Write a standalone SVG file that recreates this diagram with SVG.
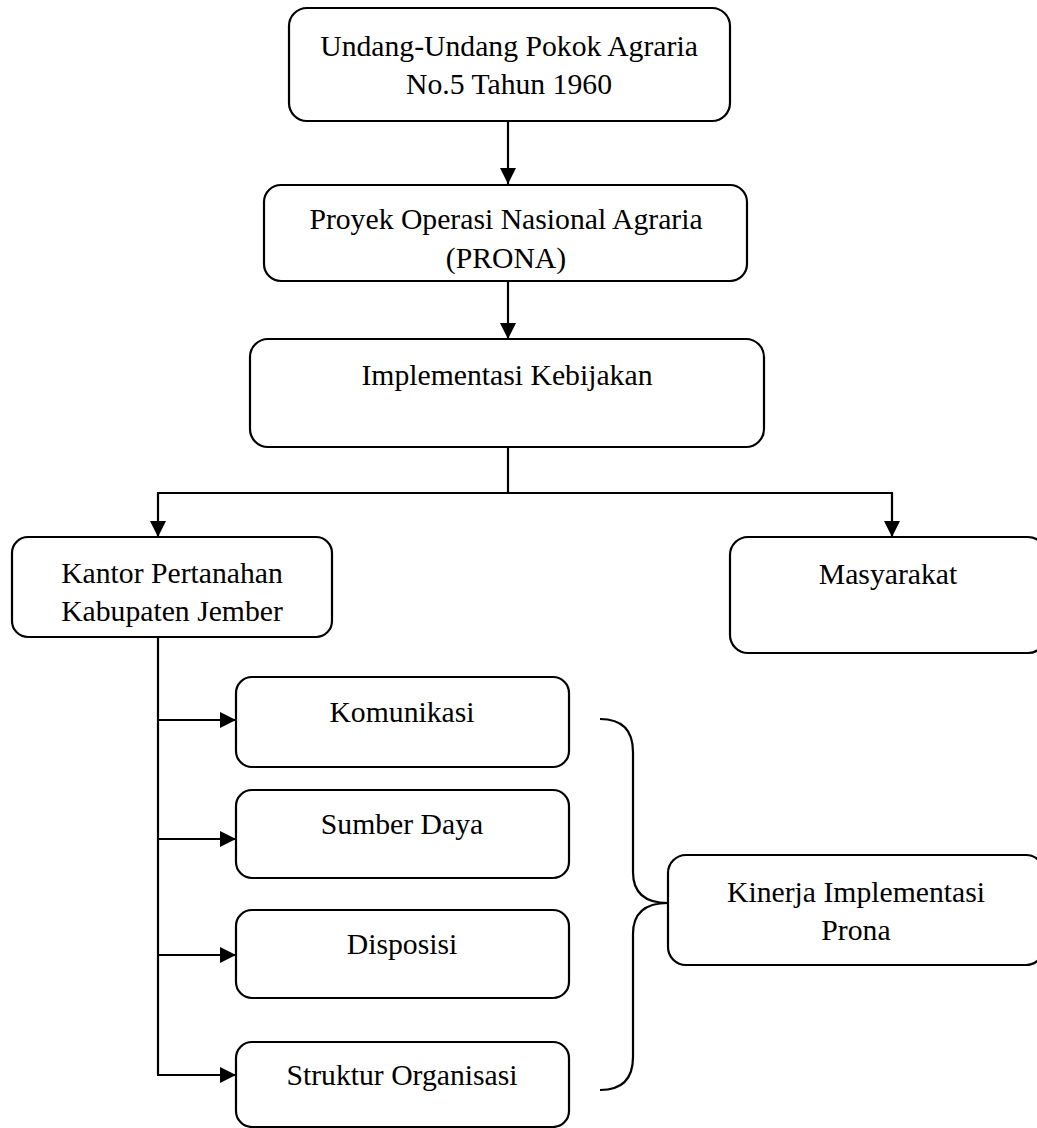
<svg xmlns="http://www.w3.org/2000/svg" width="1037" height="1128" viewBox="0 0 1037 1128">
<style>
.box{fill:#fff;stroke:#000;stroke-width:2.2}
.t{font-family:"Liberation Serif","Times New Roman",serif;font-size:29.7px;fill:#000;text-anchor:middle}
.c{fill:none;stroke:#000;stroke-width:2.2}
</style>
<defs>
<marker id="arr" markerUnits="userSpaceOnUse" markerWidth="16" markerHeight="16" viewBox="0 0 16 16" refX="16" refY="8" orient="auto">
<path d="M0,0 L16,8 L0,16 z" fill="#000"/>
</marker>
</defs>
<rect width="1037" height="1128" fill="#fff"/>
<g id="connectors">
<path class="c" d="M508,121 L508,184" marker-end="url(#arr)"/>
<path class="c" d="M508,281 L508,339" marker-end="url(#arr)"/>
<path class="c" d="M508,447 L508,493"/>
<path class="c" d="M508,493 L158,493 L158,537" marker-end="url(#arr)"/>
<path class="c" d="M508,493 L892,493 L892,537" marker-end="url(#arr)"/>
<path class="c" d="M158,637 L158,1075"/>
<path class="c" d="M158,720 L236,720" marker-end="url(#arr)"/>
<path class="c" d="M158,839 L236,839" marker-end="url(#arr)"/>
<path class="c" d="M158,955 L236,955" marker-end="url(#arr)"/>
<path class="c" d="M157,1075 L236,1075" marker-end="url(#arr)"/>
<path class="c" d="M600,719 Q633,719 633,752 L633,872 Q633,903 668,903 Q633,903 633,934 L633,1057 Q633,1090 600,1090"/>
</g>
<g id="uupa">
<rect class="box" x="289" y="8" width="441" height="113" rx="18"/>
<text class="t" x="509" y="56">Undang-Undang Pokok Agraria</text>
<text class="t" x="509" y="94">No.5 Tahun 1960</text>
</g>
<g id="prona">
<rect class="box" x="264" y="185" width="483" height="96" rx="17"/>
<text class="t" x="506" y="229">Proyek Operasi Nasional Agraria</text>
<text class="t" x="506" y="268">(PRONA)</text>
</g>
<g id="implementasi">
<rect class="box" x="250" y="339" width="514" height="108" rx="18"/>
<text class="t" x="507" y="385">Implementasi Kebijakan</text>
</g>
<g id="kantor">
<rect class="box" x="12" y="537" width="320" height="100" rx="16"/>
<text class="t" x="172" y="583">Kantor Pertanahan</text>
<text class="t" x="172" y="621">Kabupaten Jember</text>
</g>
<g id="masyarakat">
<rect class="box" x="730" y="537" width="316" height="116" rx="18"/>
<text class="t" x="888" y="584">Masyarakat</text>
</g>
<g id="komunikasi">
<rect class="box" x="236" y="677" width="333" height="90" rx="16"/>
<text class="t" x="402" y="722">Komunikasi</text>
</g>
<g id="sumberdaya">
<rect class="box" x="236" y="790" width="333" height="88" rx="16"/>
<text class="t" x="402" y="834">Sumber Daya</text>
</g>
<g id="disposisi">
<rect class="box" x="236" y="910" width="333" height="88" rx="16"/>
<text class="t" x="402" y="954">Disposisi</text>
</g>
<g id="struktur">
<rect class="box" x="236" y="1042" width="333" height="85" rx="16"/>
<text class="t" x="402" y="1085">Struktur Organisasi</text>
</g>
<g id="kinerja">
<rect class="box" x="668" y="855" width="376" height="110" rx="18"/>
<text class="t" x="856" y="902">Kinerja Implementasi</text>
<text class="t" x="856" y="940">Prona</text>
</g>
</svg>
